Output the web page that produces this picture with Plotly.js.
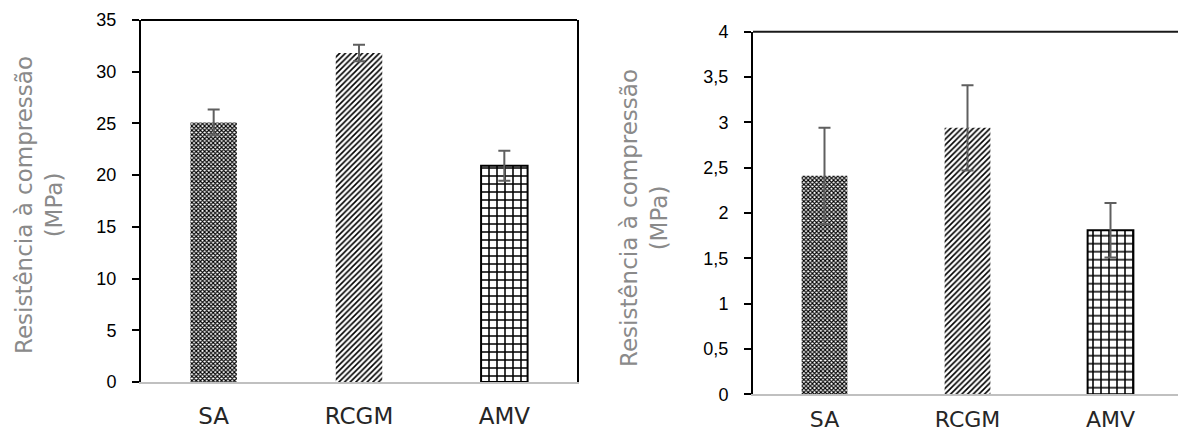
<!DOCTYPE html>
<html>
<head>
<meta charset="utf-8">
<script src="https://cdn.plot.ly/plotly-3.0.1.min.js"></script>
<style>
  html, body { margin: 0; padding: 0; background: #ffffff; }
  #chart { width: 1178px; height: 434px; }
</style>
</head>
<body>
<div id="chart"></div>
<script>
// ---- data ----
const categories = ['SA', 'RCGM', 'AMV'];
const leftValues = [25.1, 31.8, 20.9];
const leftErrors = [1.25, 0.8, 1.45];
const rightValues = [2.41, 2.94, 1.81];
const rightErrors = [0.53, 0.47, 0.30];
const leftTickVals = [0, 5, 10, 15, 20, 25, 30, 35];
const leftTickText = ['0', '5', '10', '15', '20', '25', '30', '35'];
const rightTickVals = [0, 0.5, 1, 1.5, 2, 2.5, 3, 3.5, 4];
const rightTickText = ['0', '0,5', '1', '1,5', '2', '2,5', '3', '3,5', '4'];
const yTitleText = 'Resistência à compressão<br>(MPa)';

// ---- styles ----
const W = 1178, H = 434;
const titleFont = { family: 'DejaVu Sans, sans-serif', size: 23, color: '#8a8a8a' };
const catFont = { family: 'DejaVu Sans, sans-serif', size: 23, color: '#262626' };
const catFontRight = { family: 'DejaVu Sans, sans-serif', size: 22, color: '#262626' };
const numFont = { family: 'Liberation Sans, Arial, sans-serif', size: 18, color: '#000000' };
const patternStyle = {
  shape: ['x', '/', '+'],
  size: [3, 4, 8],
  solidity: [0.6, 0.4, 0.35],
  fgcolor: '#000000',
  bgcolor: '#ffffff',
  fillmode: 'replace'
};
const markerStyle = {
  color: '#ffffff',
  pattern: patternStyle,
  line: { color: '#000000', width: [0, 0, 2] }
};
const errStyle = (arr) => ({ type: 'data', array: arr, visible: true, color: '#5f5f5f', thickness: 2, width: 6 });

function px(x) { return x / W; }
function py(y) { return (H - y) / H; }

const traces = [
  {
    type: 'bar', x: categories, y: leftValues, xaxis: 'x', yaxis: 'y',
    width: 0.32, marker: markerStyle, error_y: errStyle(leftErrors),
    hoverinfo: 'x+y', showlegend: false
  },
  {
    type: 'bar', x: categories, y: rightValues, xaxis: 'x2', yaxis: 'y2',
    width: 0.32, marker: markerStyle, error_y: errStyle(rightErrors),
    hoverinfo: 'x+y', showlegend: false
  }
];

const rightEnd = -0.5 + (W - 753) / ((1182 - 753) / 3);

const layout = {
  width: W, height: H,
  margin: { l: 0, r: 0, t: 0, b: 0 },
  paper_bgcolor: '#ffffff', plot_bgcolor: 'rgba(0,0,0,0)',
  separators: ', ',
  showlegend: false,
  xaxis: {
    domain: [px(141), px(577)], range: [-0.5, 2.5], anchor: 'y',
    showline: true, linecolor: '#c0c0c0', linewidth: 2,
    ticks: '', showgrid: false, zeroline: false,
    tickfont: catFont, ticklabelstandoff: 12, fixedrange: true
  },
  yaxis: {
    domain: [py(382), py(20)], range: [0, 35], anchor: 'x',
    tickvals: leftTickVals, ticktext: leftTickText,
    showline: true, linecolor: '#000000', linewidth: 2, mirror: true,
    ticks: 'outside', ticklen: 7, tickwidth: 2, tickcolor: '#000000',
    showgrid: false, zeroline: false, tickfont: numFont, ticklabelstandoff: 12, fixedrange: true
  },
  xaxis2: {
    domain: [px(753), 1], range: [-0.5, rightEnd], anchor: 'y2',
    showline: true, linecolor: '#c0c0c0', linewidth: 2,
    ticks: '', showgrid: false, zeroline: false,
    tickfont: catFontRight, ticklabelstandoff: 4, fixedrange: true
  },
  yaxis2: {
    domain: [py(394.3), py(31.7)], range: [0, 4], anchor: 'x2',
    tickvals: rightTickVals, ticktext: rightTickText,
    showline: true, linecolor: '#000000', linewidth: 2,
    ticks: 'outside', ticklen: 7, tickwidth: 2, tickcolor: '#000000',
    showgrid: false, zeroline: false, tickfont: numFont, ticklabelstandoff: 12, fixedrange: true
  },
  shapes: [
    { type: 'line', xref: 'x domain', yref: 'y domain', x0: 0, x1: 1, y0: 1, y1: 1,
      line: { color: '#000000', width: 2 }, layer: 'above' },
    { type: 'line', xref: 'x2 domain', yref: 'y2 domain', x0: 0, x1: 1, y0: 1, y1: 1,
      line: { color: '#1a1a1a', width: 2 }, layer: 'above' }
  ],
  annotations: [
    { text: yTitleText, xref: 'paper', yref: 'paper', x: px(39), y: py(205),
      xanchor: 'center', yanchor: 'middle', textangle: -90, showarrow: false, font: titleFont },
    { text: yTitleText, xref: 'paper', yref: 'paper', x: px(644), y: py(218),
      xanchor: 'center', yanchor: 'middle', textangle: -90, showarrow: false, font: titleFont }
  ]
};

Plotly.newPlot('chart', traces, layout, { displayModeBar: false, staticPlot: true });
</script>
</body>
</html>
